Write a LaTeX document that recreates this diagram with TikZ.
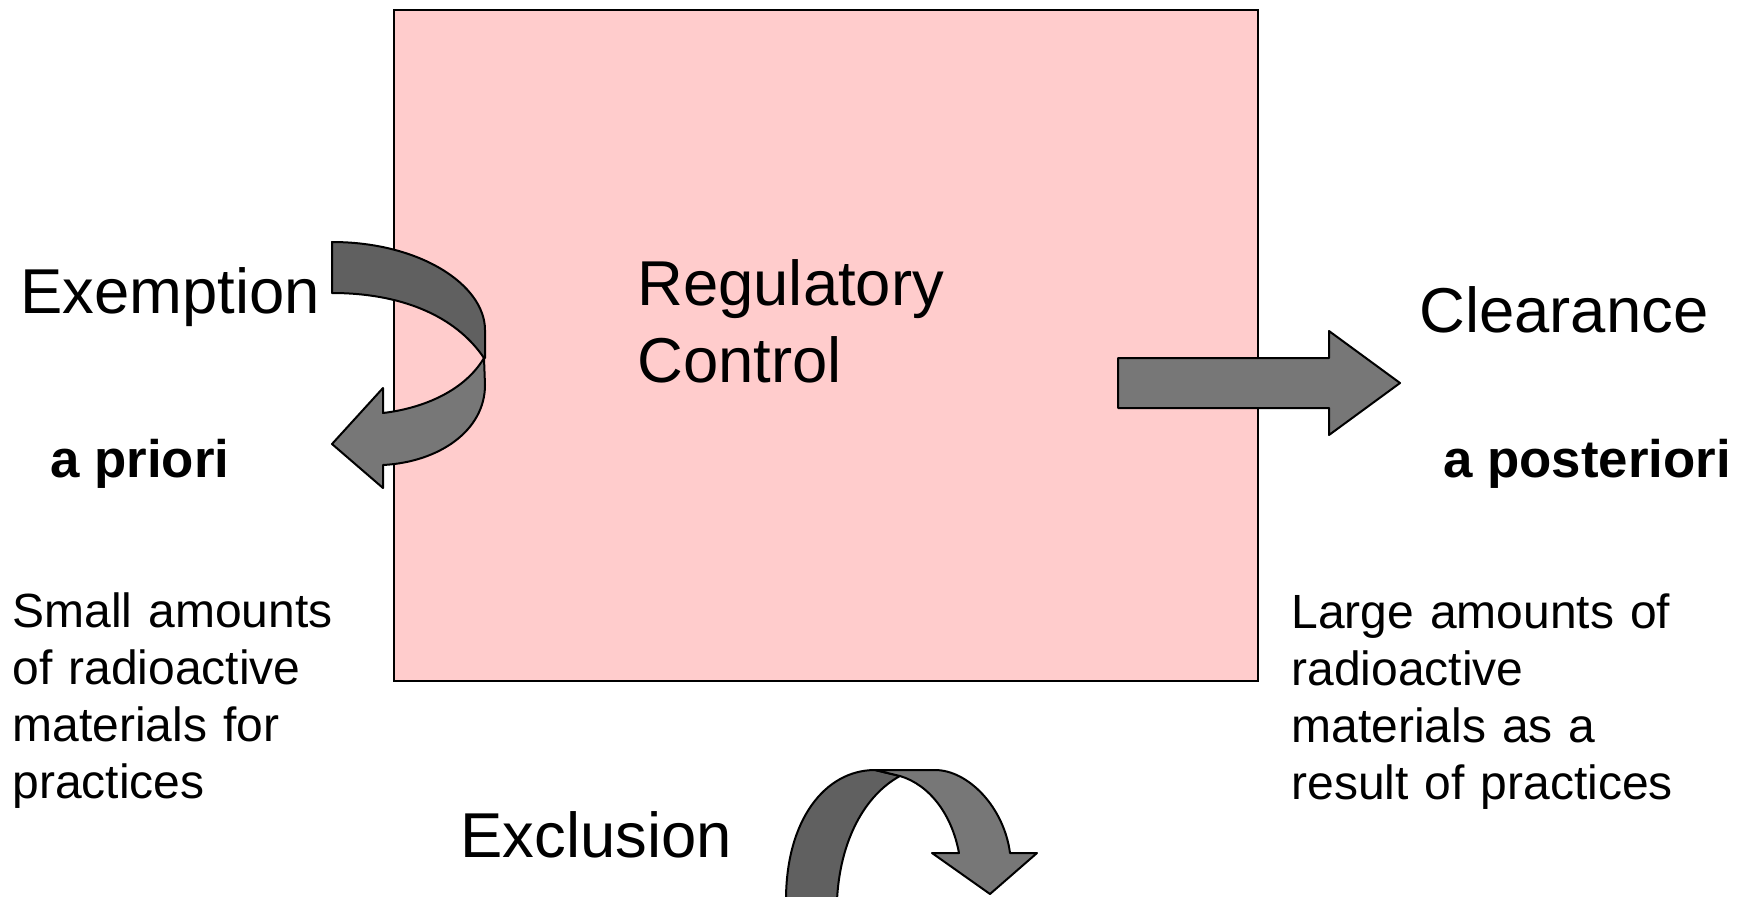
\documentclass[tikz,border=0pt]{standalone}
\usepackage{fontspec}
\setmainfont{Liberation Sans}
\definecolor{boxpink}{RGB}{255,204,204}
\definecolor{arrowdark}{RGB}{96,96,96}
\definecolor{arrowlight}{RGB}{119,119,119}

\begin{document}
\begin{tikzpicture}[x=0.5pt, y=-0.5pt,
  bigtext/.style={anchor=base west, inner sep=0pt, font=\fontsize{31.7}{38.5}\selectfont},
  boldtext/.style={anchor=base west, inner sep=0pt, font=\fontsize{26.4}{30}\selectfont\bfseries},
  notetext/.style={anchor=base west, inner sep=0pt, align=left, text width=300pt, font=\fontsize{24}{28.5}\selectfont},
  piece/.style={draw=black, line width=1pt, line join=round}]
\useasboundingbox (0,0) rectangle (1740,896);

% regulatory box
\draw[piece, fill=boxpink, line join=miter](394,10) rectangle (1258,681);
\node[bigtext, text width=250pt, align=left] (control) at (637,305) {Regulatory\\Control};

% exemption arrow (a priori)
\draw[piece, fill=arrowdark](332,242) .. controls (420,242) and (485,285) .. (485,330) -- (485,358)
  -- (484,358) .. controls (455,315) and (400,293) .. (332,293) -- cycle;
\draw[piece, fill=arrowlight](484,358) -- (485,385) .. controls (485,430) and (440,462) .. (383,465)
  -- (383,488) -- (332,444) -- (383,388) -- (383,413) .. controls (425,408) and (465,390) .. (484,358) -- cycle;

% clearance arrow (a posteriori)
\draw[piece, fill=arrowlight](1118,358) -- (1329,358) -- (1329,331) -- (1400,383) -- (1329,435)
  -- (1329,408) -- (1118,408) -- cycle;

% exclusion arrow
\draw[piece, fill=arrowdark](786,900) .. controls (786,820) and (825,770) .. (875,770) -- (900,776)
  .. controls (865,795) and (840,840) .. (837,900) -- cycle;
\draw[piece, fill=arrowlight](875,770) -- (935,770) .. controls (968,770) and (1004,807) .. (1010,853)
  -- (1037,853) -- (990,894) -- (932,853) -- (959,853) .. controls (952,815) and (930,785) .. (900,776) -- cycle;

% labels
\node[bigtext] (exemption) at (20,313) {Exemption};
\node[boldtext] (apriori) at (50,477) {a priori};
\node[notetext] (small) at (12,627) {Small amounts\\of radioactive\\materials for\\practices};

\node[bigtext] (clearance) at (1419,332) {Clearance};
\node[boldtext] (aposteriori) at (1443,477) {a posteriori};
\node[notetext] (large) at (1291,628) {Large amounts of\\radioactive\\materials as a\\result of practices};

\node[bigtext] (exclusion) at (460,857) {Exclusion};
\end{tikzpicture}
\end{document}
